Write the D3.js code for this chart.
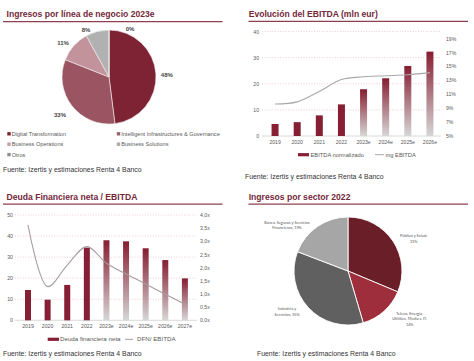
<!DOCTYPE html>
<html><head><meta charset="utf-8">
<script src="https://cdn.jsdelivr.net/npm/d3@7"></script>
<style>
body{margin:0;background:#fff;}
svg{display:block;font-family:"Liberation Sans",Arial,sans-serif;}
</style></head><body>
<svg id="c" width="474" height="361"></svg>
<script>
// ---------- DATA ----------
const titles = ["Ingresos por línea de negocio 2023e","Evolución del EBITDA (mln eur)","Deuda Financiera neta / EBITDA","Ingresos por sector 2022"];
const sourceText = "Fuente: Izertis y estimaciones Renta 4 Banco";

const lineasNegocio = ["Digital Transformation","Intelligent Infrastructures & Governance","Business Operations","Business Solutions","Otros"];
const lineasValues = [48,33,11,8,0];
const lineasLabels = ["48%","33%","11%","8%","0%"];

const ebitdaYears = ["2019","2020","2021","2022","2023e","2024e","2025e","2026e"];
const ebitdaValues = [4.6,5.3,7.9,12.1,17.9,22.1,26.8,32.3];
const mgEbitda = [9.6,9.9,11.4,13.1,13.5,13.65,13.8,14.1];
const ebitdaLeftTicks = [0,10,20,30,40];
const ebitdaRightTicks = [5,7,9,11,13,15,17,19];
const ebitdaLegend = ["EBITDA normalizado","mg EBITDA"];

const deudaYears = ["2019","2020","2021","2022","2023e","2024e","2025e","2026e","2027e"];
const deudaValues = [14.4,9.8,16.8,34.5,38.0,37.5,34.2,28.6,19.9];
const dfnEbitda = [3.62,1.28,2.1,2.8,2.17,1.76,1.38,0.99,0.61];
const deudaLeftTicks = [0,10,20,30,40,50];
const deudaRightTicks = [0,0.5,1,1.5,2,2.5,3,3.5,4];
const deudaLegend = ["Deuda financiera neta","DFN/ EBITDA"];

const sectores = ["Público y Salud","Teleco, Energía, Utilities, Media e IT","Industria y Servicios","Banca, Seguros y Servicios Financieros"];
const sectorValues = [31,14,35,19];
const sectorLabelLines = [["Público y Salud;","31%"],["Teleco, Energía,","Utilities, Media e IT;","14%"],["Industria y","Servicios; 35%"],["Banca, Seguros y Servicios","Financieros; 19%"]];

// ---------- STYLE ----------
const titleColor = "#74283a";
const ruleColor = "#8e4051";
const textGray = "#595959";
const barRed = "#861f33";
const gridColor = "#e4b9c2";
const pie1Colors = ["#7e2333","#9b5562","#c3939c","#b1b1b1","#8a8a8a"];
const pie1Legend = ["#7e2333","#8f6870","#c4a0a6","#a9a9a9","#8f8f8f"];
const pie4Colors = ["#6a1e28","#9e2e3b","#606060","#a6a6a6"];

const svg = d3.select("#c");
const defs = svg.append("defs");
const grad = defs.append("linearGradient").attr("id","gbar").attr("x1",0).attr("y1",0).attr("x2",0).attr("y2",1);
grad.append("stop").attr("offset","0%").attr("stop-color","#861d31");
grad.append("stop").attr("offset","100%").attr("stop-color","#d6d6d6");

// ---------- headers ----------
const headers = [
  {x:6.5,y:16.5,rx1:3,rx2:222.5,ry:21.6,sx:3,sy:171.5},
  {x:248.7,y:16.5,rx1:248.5,rx2:468,ry:21.4,sx:245,sy:178.5},
  {x:6.5,y:200.3,rx1:3,rx2:222.5,ry:204.2,sx:3,sy:355.8},
  {x:248.7,y:200.3,rx1:248.5,rx2:468,ry:204.2,sx:257,sy:355.8}
];
headers.forEach((h,i)=>{
  svg.append("text").attr("x",h.x).attr("y",h.y).text(titles[i])
    .attr("font-size",8.6).attr("font-weight","bold").attr("fill",titleColor);
  svg.append("line").attr("x1",h.rx1).attr("x2",h.rx2).attr("y1",h.ry).attr("y2",h.ry)
    .attr("stroke",ruleColor).attr("stroke-width",1.2);
  svg.append("text").attr("x",h.sx).attr("y",h.sy).text(sourceText)
    .attr("font-size",6.9).attr("fill","#333");
});

// ---------- Pie 1 ----------
{
  const cx=109, cy=77, r=47;
  const g = svg.append("g").attr("transform",`translate(${cx},${cy})`);
  const pie = d3.pie().sort(null).value(d=>d);
  const arcs = pie(lineasValues);
  const arc = d3.arc().innerRadius(0).outerRadius(r);
  g.selectAll("path").data(arcs).join("path").attr("d",arc)
    .attr("fill",(d,i)=>pie1Colors[i]).attr("stroke","#f4eeee").attr("stroke-width",0.6);
  const lab = d3.arc().innerRadius(60).outerRadius(60);
  const nudge = [[-2,2],[-1.6,1.2],[-1,6],[-8,11],[21,12]];
  g.selectAll("text.pl").data(arcs).join("text").attr("class","pl")
    .attr("x",(d,i)=>lab.centroid(d)[0]+nudge[i][0])
    .attr("y",(d,i)=>lab.centroid(d)[1]+nudge[i][1])
    .attr("dy","0.35em").attr("text-anchor","middle")
    .attr("font-size",6).attr("font-weight","bold").attr("fill","#444")
    .text((d,i)=>lineasLabels[i]);
  // legend
  const colX=[7.3,116.8], rowY=[133.8,144.2,154.6];
  lineasNegocio.forEach((n,i)=>{
    const x=colX[i%2], y=rowY[Math.floor(i/2)];
    svg.append("rect").attr("x",x).attr("y",y-1.7).attr("width",3.4).attr("height",3.4).attr("fill",pie1Legend[i]);
    svg.append("text").attr("x",x+4.4).attr("y",y).attr("dy","0.35em").text(n)
      .attr("font-size",5.6).attr("fill",textGray);
  });
}

// ---------- combo chart helper ----------
function combo(o){
  const x = d3.scaleBand().domain(o.cats).range(o.xr).paddingInner(o.pad).paddingOuter(o.pad/2);
  const y = d3.scaleLinear().domain(o.yd).range(o.yr);
  const y2 = d3.scaleLinear().domain(o.y2d).range(o.yr);
  const g = svg.append("g");
  // grid
  g.selectAll("line.grid").data(o.lt.filter(t=>t>0)).join("line")
    .attr("x1",o.gx[0]).attr("x2",o.gx[1]).attr("y1",d=>y(d)).attr("y2",d=>y(d))
    .attr("stroke",gridColor).attr("stroke-width",0.7).attr("stroke-dasharray","1,1.6");
  g.append("line").attr("x1",o.gx[0]).attr("x2",o.gx[1]).attr("y1",y(0)).attr("y2",y(0))
    .attr("stroke","#cfcfcf").attr("stroke-width",0.8);
  // axes
  const la = g.append("g").attr("transform",`translate(${o.gx[0]},0)`)
    .call(d3.axisLeft(y).tickValues(o.lt).tickSize(0).tickPadding(o.lp).tickFormat(d3.format("d")));
  const ra = g.append("g").attr("transform",`translate(${o.gx[1]},0)`)
    .call(d3.axisRight(y2).tickValues(o.rt).tickSize(0).tickPadding(o.rp).tickFormat(o.rf));
  const ba = g.append("g").attr("transform",`translate(0,${y(0)})`)
    .call(d3.axisBottom(x).tickSize(0).tickPadding(4.5));
  [la,ra,ba].forEach(a=>{a.select(".domain").remove();
    a.selectAll("text").attr("font-size",o.fs).attr("fill",textGray).attr("font-family","Liberation Sans, Arial, sans-serif");});
  // bars
  const bw = o.bw;
  g.selectAll("rect.bar").data(o.vals).join("rect").attr("class","bar")
    .attr("x",(d,i)=>x(o.cats[i])+x.bandwidth()/2-bw/2).attr("width",bw)
    .attr("y",d=>y(d)).attr("height",d=>y(0)-y(d))
    .attr("fill",(d,i)=>o.cats[i].endsWith("e")?"url(#gbar)":barRed);
  // line
  const line = d3.line().x((d,i)=>x(o.cats[i])+x.bandwidth()/2).y(d=>y2(d)).curve(d3.curveCatmullRom.alpha(0.5));
  g.append("path").attr("d",line(o.line)).attr("fill","none").attr("stroke",o.lc).attr("stroke-width",1.1);
  // legend
  const L=o.leg;
  g.append("rect").attr("x",L.rx).attr("y",L.y-1.6).attr("width",L.rw).attr("height",3.2).attr("fill",barRed);
  g.append("text").attr("x",L.t1).attr("y",L.y).attr("dy","0.35em").text(o.legText[0]).attr("font-size",o.lfs).attr("fill",textGray);
  g.append("line").attr("x1",L.lx1).attr("x2",L.lx2).attr("y1",L.y).attr("y2",L.y).attr("stroke",o.lc).attr("stroke-width",1);
  g.append("text").attr("x",L.t2).attr("y",L.y).attr("dy","0.35em").text(o.legText[1]).attr("font-size",o.lfs).attr("fill",textGray);
}

combo({cats:ebitdaYears, vals:ebitdaValues, line:mgEbitda, xr:[264,441], pad:0.68, bw:7,
  yd:[0,40], y2d:[5,20], yr:[136,31.5], lt:ebitdaLeftTicks, rt:ebitdaRightTicks,
  gx:[262,441], lp:3, rp:5, rf:d=>d+"%", fs:5.1, lc:"#a8a8a8",
  leg:{rx:298,rw:11,t1:310.5,lx1:375,lx2:384,t2:385.5,y:154.7}, legText:ebitdaLegend, lfs:5.75});

combo({cats:deudaYears, vals:deudaValues, line:dfnEbitda, xr:[18.2,194.7], pad:0.69, bw:6,
  yd:[0,50], y2d:[0,4], yr:[320.3,215], lt:deudaLeftTicks, rt:deudaRightTicks,
  gx:[15,197], lp:2, rp:3, rf:d=>d3.format(".1f")(d).replace(".",",")+"x", fs:5.2, lc:"#a89c9e",
  leg:{rx:47.7,rw:11.3,t1:60,lx1:125,lx2:133,t2:137,y:339.3}, legText:deudaLegend, lfs:6.2});

// ---------- Pie 4 ----------
{
  const cx=348, cy=271, r=54;
  const g = svg.append("g").attr("transform",`translate(${cx},${cy})`);
  const arcs = d3.pie().sort(null).value(d=>d)(sectorValues);
  const arc = d3.arc().innerRadius(0).outerRadius(r);
  g.selectAll("path").data(arcs).join("path").attr("d",arc)
    .attr("fill",(d,i)=>pie4Colors[i]).attr("stroke","#fff").attr("stroke-width",0.9);
  const lab = d3.arc().innerRadius(75).outerRadius(75);
  const nudge = [[3.2,9.2],[11.7,-8.2],[-5.9,-10.4],[-18.5,15.6]];
  const lh = 5.5;
  arcs.forEach((d,i)=>{
    const c = lab.centroid(d);
    const lines = sectorLabelLines[i];
    const x0 = c[0]+nudge[i][0], y0 = c[1]+nudge[i][1] - (lines.length-1)*lh/2;
    const t = g.append("text").attr("text-anchor","middle").attr("font-size",4.3).attr("fill",textGray)
      .attr("font-family","Carlito, Liberation Sans, Arial, sans-serif");
    lines.forEach((s,k)=>t.append("tspan").attr("x",x0).attr("y",y0+k*lh).attr("dy","0.35em").text(s));
  });
}
</script>
</body></html>
